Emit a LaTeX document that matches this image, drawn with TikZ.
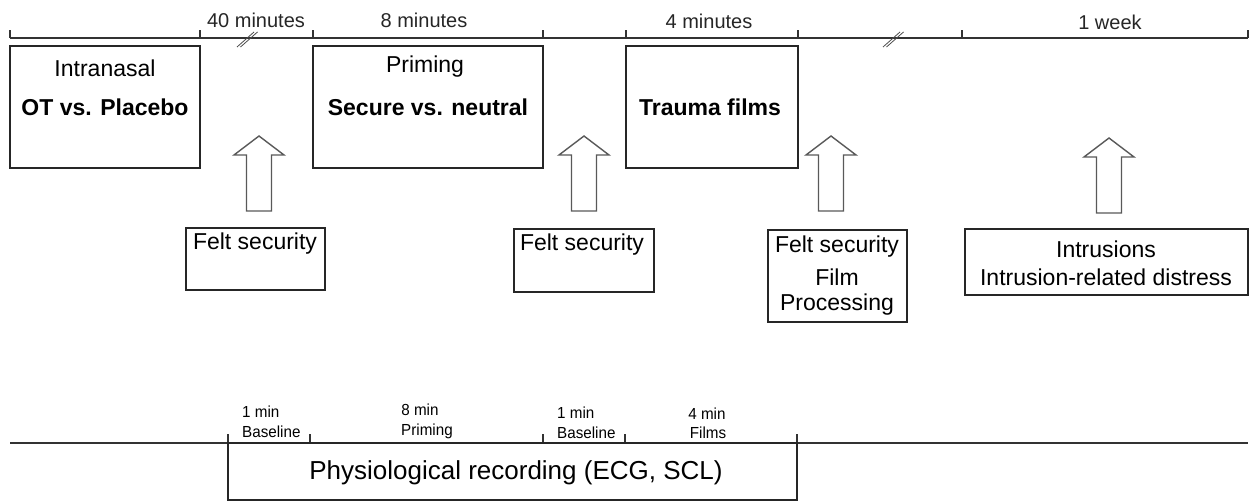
\documentclass[tikz,border=0pt]{standalone}
\usepackage{fontspec}
\setmainfont{Liberation Sans}
\newfontfamily\narrowfont[FakeStretch=0.95]{Liberation Sans}
\begin{document}
\begin{tikzpicture}[x=1pt,y=-1pt,
  frame/.style={draw=black!85, line width=1.2pt, inner sep=0pt},
  big/.style={font=\fontsize{23}{27}\selectfont, inner sep=0pt},
  bigb/.style={font=\fontsize{23}{27}\selectfont\bfseries, inner sep=0pt},
  toplbl/.style={font=\fontsize{20}{23}\selectfont, text=black!85, inner sep=0pt},
  small/.style={font=\narrowfont\fontsize{16}{18}\selectfont, inner sep=0pt, align=left},
  tline/.style={draw=black!80, line width=1.2pt},
  tick/.style={draw=black!80, line width=1.2pt},
  brk/.style={draw=black!70, line width=0.8pt},
  blockarrow/.style={draw=black!65, line width=1.4pt, fill=white, line join=miter}
]
\useasboundingbox (0,0) rectangle (1250,502);

% ---------- top timeline ----------
\coordinate (tl) at (10,38);
\coordinate (tr) at (1248,38);
\draw[tline] (tl) -- (tr);
\foreach \x in {10,200,313,543,626,798,962,1248}
  \draw[tick] (\x,38) -- (\x,30);
% break marks
\foreach \x in {247,893}{
  \draw[brk] (\x-10,47) -- (\x+7,32);
  \draw[brk] (\x-6.5,47) -- (\x+10.5,32);
}
\node[toplbl] (t40) at (256,20) {40 minutes};
\node[toplbl] (t8) at (424,20) {8 minutes};
\node[toplbl] (t4) at (709,21) {4 minutes};
\node[toplbl] (t1w) at (1110,22) {1 week};

% ---------- manipulation boxes ----------
\node[frame, minimum width=190pt, minimum height=122pt] (ot) at (105,107) {};
\node[big] (otA) at (105,68) {Intranasal};
\node[bigb] (otB) at (105,107) {OT vs. Placebo};

\node[frame, minimum width=230pt, minimum height=122pt] (pr) at (428,107) {};
\node[big] (prA) at (425,67) {Priming};
\node[bigb] (prB) at (428,107) {Secure vs. neutral};

\node[frame, minimum width=172pt, minimum height=122pt] (tf) at (712,107) {};
\node[bigb] (tfB) at (710,107) {Trauma films};

% ---------- block arrows ----------
\foreach \cx/\top/\bot in {259/136/211, 584/136/211, 831/136/211, 1109/138/213}{
  \draw[blockarrow] (\cx-12.5,\bot) -- (\cx-12.5,\top+19) -- (\cx-25,\top+19)
     -- (\cx,\top) -- (\cx+25,\top+19) -- (\cx+12.5,\top+19) -- (\cx+12.5,\bot) -- cycle;
}

% ---------- measurement boxes ----------
\node[frame, minimum width=139pt, minimum height=62pt] (fs1) at (255.5,259) {};
\node[big] (fs1t) at (255,244) {Felt security};

\node[frame, minimum width=140pt, minimum height=63pt] (fs2) at (584,260.5) {};
\node[big] (fs2t) at (582,245) {Felt security};

\node[frame, minimum width=139pt, minimum height=92pt] (fs3) at (837.5,276) {};
\node[big] (fs3a) at (837,247) {Felt security};
\node[big] (fs3b) at (837,277) {Film};
\node[big] (fs3c) at (837,305) {Processing};

\node[frame, minimum width=283pt, minimum height=66pt] (intr) at (1106.5,262) {};
\node[big] (intra) at (1106,249) {Intrusions};
\node[big] (intrb) at (1106,277) {Intrusion-related distress};

% ---------- bottom timeline ----------
\draw[tline] (10,443) -- (1248,443);
\foreach \x in {228,310,543,625,797}
  \draw[tick] (\x,443) -- (\x,434);
\node[frame, minimum width=569pt, minimum height=57pt] (phys) at (512.5,471.5) {};
\node[font=\fontsize{26}{30}\selectfont, inner sep=0pt] (physt) at (516,473) {Physiological recording (ECG, SCL)};

\node[small, anchor=west] (b1a) at (242,412) {1 min};
\node[small, anchor=west] (b1b) at (242,432) {Baseline};
\node[small] (p1a) at (420,410) {8 min};
\node[small] (p1b) at (427,431) {Priming};
\node[small, anchor=west] (b2a) at (557,413) {1 min};
\node[small, anchor=west] (b2b) at (557,433) {Baseline};
\node[small] (f1a) at (707,414) {4 min};
\node[small] (f1b) at (708,433) {Films};
\end{tikzpicture}
\end{document}
